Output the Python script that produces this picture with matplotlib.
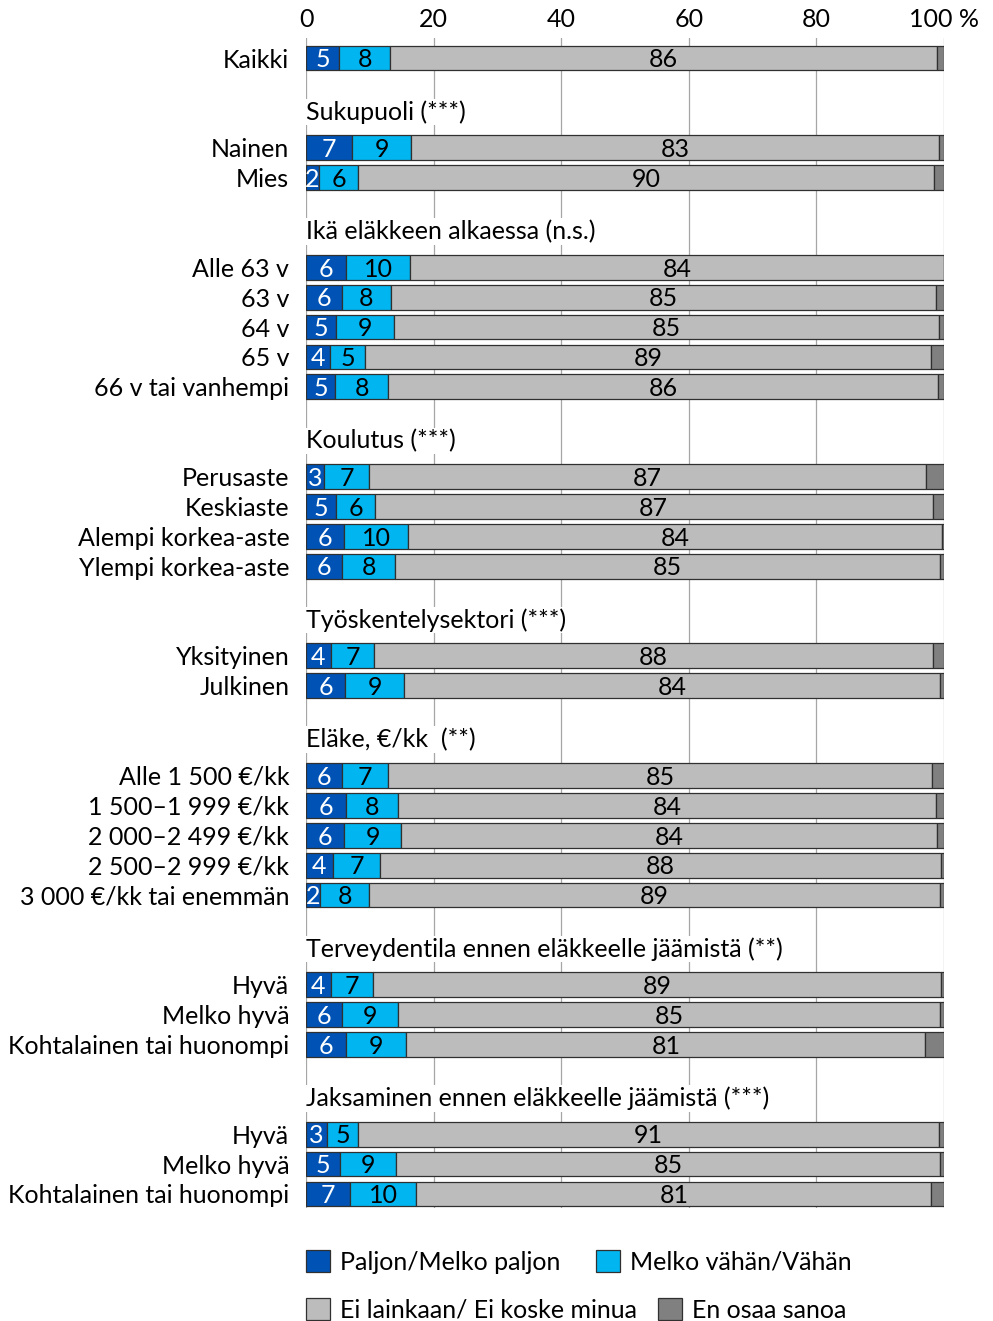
import numpy as np
import matplotlib
matplotlib.use("Agg")
import matplotlib.pyplot as plt
from matplotlib.patches import Patch

plt.rcParams["font.family"] = ["Lato", "DejaVu Sans"]
FS = 18

# groups: header text (None for the overall row) and their categories
groups = [
    (None, ["Kaikki"]),
    ("Sukupuoli (***)", ["Nainen", "Mies"]),
    ("Ikä eläkkeen alkaessa (n.s.)", ["Alle 63 v", "63 v", "64 v", "65 v", "66 v tai vanhempi"]),
    ("Koulutus (***)", ["Perusaste", "Keskiaste", "Alempi korkea-aste", "Ylempi korkea-aste"]),
    ("Työskentelysektori (***)", ["Yksityinen", "Julkinen"]),
    ("Eläke, €/kk  (**)", ["Alle 1 500 €/kk", "1 500–1 999 €/kk", "2 000–2 499 €/kk",
                          "2 500–2 999 €/kk", "3 000 €/kk tai enemmän"]),
    ("Terveydentila ennen eläkkeelle jäämistä (**)", ["Hyvä", "Melko hyvä", "Kohtalainen tai huonompi"]),
    ("Jaksaminen ennen eläkkeelle jäämistä (***)", ["Hyvä", "Melko hyvä", "Kohtalainen tai huonompi"]),
]

series_names = ["Paljon/Melko paljon", "Melko vähän/Vähän",
                "Ei lainkaan/ Ei koske minua", "En osaa sanoa"]
paljon = [5.2, 7.2, 2.0, 6.3, 5.6, 4.7, 3.8, 4.6, 2.8, 4.7, 6.0, 5.6, 3.9, 6.1,
          5.6, 6.3, 6.0, 4.2, 2.2, 3.9, 5.6, 6.3, 3.3, 5.3, 6.9]
vahan = [8.0, 9.3, 6.2, 10.0, 7.7, 9.1, 5.4, 8.3, 7.1, 6.1, 10.0, 8.4, 6.8, 9.3,
         7.3, 8.1, 8.9, 7.4, 7.7, 6.6, 8.8, 9.4, 4.9, 8.8, 10.4]
ei_lainkaan = [85.7, 82.7, 90.2, 83.7, 85.4, 85.4, 88.8, 86.2, 87.3, 87.4, 83.7, 85.3,
               87.6, 84.0, 85.2, 84.4, 84.0, 87.9, 89.4, 89.0, 85.0, 81.4, 91.0, 85.3, 80.7]
eos = [1.1, 0.8, 1.6, 0.0, 1.3, 0.8, 2.0, 0.9, 2.8, 1.8, 0.3, 0.7, 1.7, 0.6,
       1.9, 1.2, 1.1, 0.5, 0.7, 0.5, 0.6, 2.9, 0.8, 0.6, 2.0]
colors = ["#0053b5", "#00b5f0", "#bcbcbc", "#808080"]
text_colors = ["white", "black", "black", None]

# slot layout: blank row and header row before each group
cat_pos, cat_names, headers = [], [], []
slot = 0
for header, cats in groups:
    if header is not None:
        slot += 1
        headers.append((slot, header))
        slot += 1
    for c in cats:
        cat_pos.append(slot)
        cat_names.append(c)
        slot += 1

fig = plt.figure(figsize=(9.93, 13.21), dpi=100)
ax = fig.add_axes([306 / 993, 1 - 1208 / 1321, 638 / 993, 1170 / 1321])

data = np.array([paljon, vahan, ei_lainkaan, eos])
left = np.zeros(len(cat_pos))
for i, vals in enumerate(data):
    ax.barh(cat_pos, vals, left=left, height=0.83, color=colors[i],
            edgecolor="#303030", linewidth=0.9, zorder=3)
    if text_colors[i]:
        for y, l, v in zip(cat_pos, left, vals):
            ax.text(l + v / 2, y + 0.06, f"{round(v):d}", ha="center", va="center",
                    fontsize=FS, color=text_colors[i], zorder=4)
    left += vals

for y, h in headers:
    ax.text(0, y - 0.2, h, ha="left", va="center", fontsize=FS, zorder=5,
            bbox=dict(facecolor="white", edgecolor="none", pad=1))

ax.set_xlim(0, 100)
ax.set_ylim(slot - 1 + 0.47, -0.67)
ax.set_yticks(cat_pos)
ax.set_yticklabels(cat_names, fontsize=FS)
ax.set_xticks([0, 20, 40, 60, 80, 100])
ax.set_xticklabels(["0", "20", "40", "60", "80", "100 %"], fontsize=FS)
ax.xaxis.tick_top()
ax.tick_params(length=0, pad=5)
ax.tick_params(axis="y", pad=12)
for s in ax.spines.values():
    s.set_visible(False)
for x in [0, 20, 40, 60, 80, 100]:
    ax.axvline(x, color="#a6a6a6", linewidth=0.9, zorder=1)

handles = [Patch(facecolor=c, edgecolor="#303030", linewidth=0.9) for c in colors]
kw = dict(frameon=False, fontsize=FS, handlelength=0.95, handleheight=0.95,
          handletextpad=0.4, borderpad=0, borderaxespad=0, ncol=2)
fig.legend(handles[:2], series_names[:2], loc="center left",
           bbox_to_anchor=(306 / 993, 1 - 1262 / 1321), columnspacing=1.45, **kw)
fig.legend(handles[2:], series_names[2:], loc="center left",
           bbox_to_anchor=(306 / 993, 1 - 1310 / 1321), columnspacing=0.85, **kw)

fig.savefig("out.png", dpi=100)
